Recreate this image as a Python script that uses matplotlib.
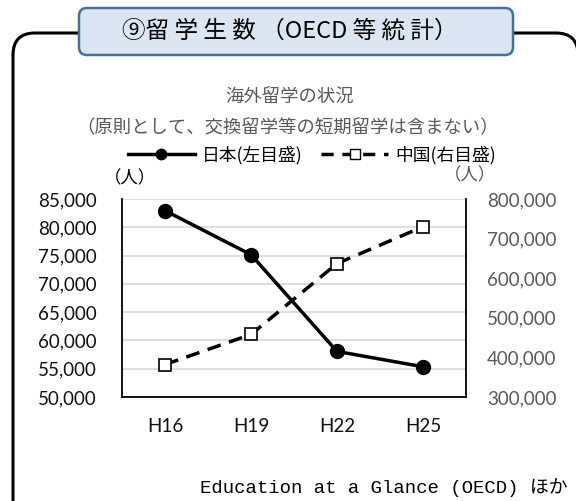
import matplotlib
matplotlib.use("Agg")
import matplotlib.pyplot as plt
from matplotlib.patches import FancyBboxPatch
from matplotlib.lines import Line2D
from matplotlib.ticker import FuncFormatter

plt.rcParams['font.family'] = ['Noto Sans CJK JP', 'DejaVu Sans']

categories = ['H16', 'H19', 'H22', 'H25']
japan = [82945, 75156, 58060, 55350]
china = [382000, 458000, 637000, 730000]
left_ticks = [50000, 55000, 60000, 65000, 70000, 75000, 80000, 85000]
right_ticks = [300000, 400000, 500000, 600000, 700000, 800000]

W, H = 576, 501
fig = plt.figure(figsize=(W / 100, H / 100), dpi=100)

# background / decoration axes in pixel coordinates
bg = fig.add_axes([0, 0, 1, 1], zorder=0)
bg.set_xlim(0, W)
bg.set_ylim(H, 0)
bg.axis('off')
frame = FancyBboxPatch((13, 33), 565, 500, boxstyle="round,pad=0,rounding_size=22",
                       fc='white', ec='black', lw=2.2)
bg.add_patch(frame)
header = FancyBboxPatch((79, 8), 434, 47, boxstyle="round,pad=0,rounding_size=8",
                        fc='#dce6f2', ec='#41719c', lw=1.8)
bg.add_patch(header)
bg.text(290, 31, '⑨留 学 生 数 （OECD 等 統 計）', ha='center', va='center', fontsize=17,
        color='black')
bg.text(290, 98, '海外留学の状況', ha='center', va='center', fontsize=13.2, color='#595959')
bg.text(288, 128, '（原則として、交換留学等の短期留学は含まない）', ha='center', va='center',
        fontsize=13.2, color='#595959')
bg.text(130, 178, '（人）', ha='center', va='center', fontsize=12.5, color='black')
bg.text(470, 175, '（人）', ha='center', va='center', fontsize=12.5, color='#595959')
bg.text(568, 488, 'Education at a Glance (OECD) ほか', ha='right', va='center',
        fontsize=13.6, family=['Liberation Mono', 'Noto Sans CJK JP'], color='black')

num_font = ['Lato', 'DejaVu Sans']

# main chart
ax = fig.add_axes([122 / W, 1 - 397 / H, (466 - 122) / W, (397 - 199) / H], zorder=2)
ax.patch.set_alpha(0)
x = list(range(len(categories)))
ax.plot(x, japan, color='black', lw=2.5, marker='o', ms=10, zorder=3)
ax.set_xlim(-0.5, 3.5)
ax.set_ylim(left_ticks[0], left_ticks[-1])
ax.set_yticks(left_ticks)
ax.yaxis.set_major_formatter(FuncFormatter(lambda v, p: f'{int(v):,}'))
ax.set_xticks(x)
ax.set_xticklabels(categories)
ax.grid(axis='y', color='#d9d9d9', lw=1.2)
ax.set_axisbelow(True)
ax.tick_params(axis='y', length=0, pad=18, labelsize=13.5, labelcolor='#111111')
ax.tick_params(axis='x', length=0, pad=15, labelsize=13.5, labelcolor='#111111')
for lab in ax.get_yticklabels() + ax.get_xticklabels():
    lab.set_family(num_font)
for s in ['top', 'right']:
    ax.spines[s].set_visible(False)
ax.spines['left'].set_color('black')
ax.spines['bottom'].set_color('black')
ax.spines['left'].set_linewidth(1.3)
ax.spines['bottom'].set_linewidth(1.3)

ax2 = ax.twinx()
ax2.plot(x, china, color='black', lw=2.5, ls=(0, (4, 2.5)), marker='s', ms=9,
         mfc='white', mec='black', mew=1.2, zorder=3)
ax2.set_ylim(right_ticks[0], right_ticks[-1])
ax2.set_yticks(right_ticks)
ax2.yaxis.set_major_formatter(FuncFormatter(lambda v, p: f'{int(v):,}'))
ax2.tick_params(axis='y', length=0, pad=15, labelsize=13.5, labelcolor='#595959')
for lab in ax2.get_yticklabels():
    lab.set_family(num_font)
for s in ['top', 'left', 'bottom']:
    ax2.spines[s].set_visible(False)
ax2.spines['right'].set_color('black')
ax2.spines['right'].set_linewidth(1.3)

handles = [
    Line2D([], [], color='black', lw=2.5, marker='o', ms=7.5),
    Line2D([], [], color='black', lw=2.5, ls=(0, (3.5, 2.5)), marker='s', ms=7,
           mfc='white', mec='black'),
]
fig.legend(handles, ['日本(左目盛)', '中国(右目盛)'], loc='center',
           bbox_to_anchor=(312 / W, 1 - 155 / H), ncol=2, frameon=False,
           fontsize=12.8, handlelength=3.8, columnspacing=1.0, handletextpad=0.4,
           labelcolor='black')

fig.savefig('out.png', dpi=100)
